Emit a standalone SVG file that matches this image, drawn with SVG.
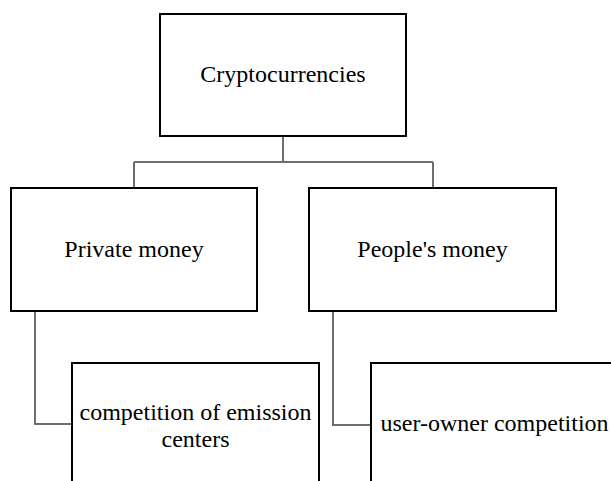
<svg xmlns="http://www.w3.org/2000/svg" width="611" height="481" viewBox="0 0 611 481">
  <style>
    .box { fill: #ffffff; stroke: #000000; stroke-width: 2; }
    .label { font-family: 'Liberation Serif', 'Times New Roman', serif; font-size: 24px; fill: #000000; text-anchor: middle; }
    .link { fill: none; stroke: #6e6e6e; stroke-width: 2; }
  </style>
  <rect width="611" height="481" fill="#ffffff"/>

  <!-- tree links: root to the two branches, branches to their leaves -->
  <g id="connectors">
    <path class="link" d="M283 136 V162 M134 162 H433 M134 162 V188 M433 162 V188"/>
    <path class="link" d="M35 311 V424 H72"/>
    <path class="link" d="M333 311 V425 H371"/>
  </g>

  <g id="cryptocurrencies">
    <rect class="box" x="160" y="14" width="246" height="122"/>
    <text class="label" x="283" y="82">Cryptocurrencies</text>
  </g>

  <g id="private-money">
    <rect class="box" x="11" y="188" width="246" height="123"/>
    <text class="label" x="134" y="257">Private money</text>
  </g>

  <g id="peoples-money">
    <rect class="box" x="309" y="188" width="247" height="123"/>
    <text class="label" x="432.5" y="257">People's money</text>
  </g>

  <g id="emission-centers">
    <rect class="box" x="72" y="363" width="247" height="123"/>
    <text class="label" x="195.5" y="420">competition of emission</text>
    <text class="label" x="195.5" y="447">centers</text>
  </g>

  <g id="user-owner">
    <rect class="box" x="371" y="363" width="247" height="123"/>
    <text class="label" x="494.5" y="431">user-owner competition</text>
  </g>
</svg>
